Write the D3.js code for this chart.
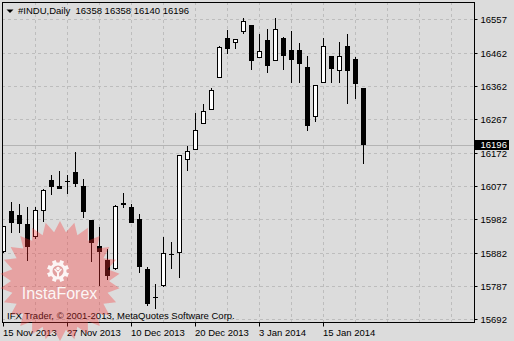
<!DOCTYPE html>
<html>
<head>
<meta charset="utf-8">
<script src="https://cdn.jsdelivr.net/npm/d3@7"></script>
<style>
    body { margin: 0; background: #dcdcdc; }
    text { font-family: "Liberation Sans", Arial, sans-serif; font-size: 9.5px; fill: #000; }
</style>
</head>
<body>
<script>
(function(){

    // chart data
    var dates = ["15 Nov 2013","18 Nov 2013","19 Nov 2013","20 Nov 2013","21 Nov 2013","22 Nov 2013",
        "25 Nov 2013","26 Nov 2013","27 Nov 2013","29 Nov 2013","2 Dec 2013","3 Dec 2013","4 Dec 2013",
        "5 Dec 2013","6 Dec 2013","9 Dec 2013","10 Dec 2013","11 Dec 2013","12 Dec 2013","13 Dec 2013",
        "16 Dec 2013","17 Dec 2013","18 Dec 2013","19 Dec 2013","20 Dec 2013","23 Dec 2013","24 Dec 2013",
        "26 Dec 2013","27 Dec 2013","30 Dec 2013","31 Dec 2013","2 Jan 2014","3 Jan 2014","6 Jan 2014",
        "7 Jan 2014","8 Jan 2014","9 Jan 2014","10 Jan 2014","13 Jan 2014","14 Jan 2014","15 Jan 2014",
        "16 Jan 2014","17 Jan 2014","21 Jan 2014","22 Jan 2014","23 Jan 2014"];
    var opens  = [15887,16004,15993,15967,15928,16003,16094,16075,16088,16116,16075,15977,15903,15863,15836,16023,
        16016,15981,15837,15752,15787,15881,15882,16150,16179,16254,16295,16387,16502,16488,16521,16541,16445,
        16497,16436,16504,16468,16468,16419,16276,16372,16451,16409,16480,16443,16358];
    var highs  = [15962,16029,16024,16016,16016,16069,16108,16120,16108,16173,16096,15979,15958,15896,16021,16055,
        16024,15995,15843,15793,15929,15914,16167,16192,16286,16313,16358,16480,16526,16499,16560,16541,16515,
        16529,16562,16507,16523,16488,16451,16367,16503,16451,16492,16515,16449,16358];
    var lows   = [15883,15940,15942,15861,15924,15973,16050,16068,16053,16073,15985,15858,15789,15805,15834,16012,
        15969,15826,15730,15721,15786,15836,15810,16120,16179,16254,16295,16387,16456,16472,16515,16411,16445,
        16403,16436,16411,16374,16374,16236,16262,16372,16372,16374,16314,16327,16140];
    var closes = [15961,15971,15967,15901,16006,16065,16074,16068,16092,16083,16002,15913,15887,15818,16019,16027,
        15971,15842,15737,15755,15882,15878,16165,16176,16237,16293,16353,16476,16472,16499,16553,16438,16465,
        16423,16528,16452,16440,16429,16250,16367,16479,16415,16450,16409,16371,16196];
    var priceLabels = ["15692","15787","15882","15982","16077","16172","16267","16362","16462","16557"];
    var dateTicks = [0, 8, 16, 24, 32, 40];
    var lastPrice = 16196;
    var header = "#INDU,Daily  16358 16358 16140 16196";

    var width = 514, height = 341;

    var svg = d3.select("body").append("svg")
        .attr("width", width)
        .attr("height", height);

    svg.append("rect")
        .attr("width", width)
        .attr("height", height)
        .attr("fill", "#dcdcdc");

    var x = d3.scaleLinear().domain([0, 59]).range([3.5, 475.5]);
    var y = d3.scaleLinear()
        .domain([+priceLabels[0], +priceLabels[priceLabels.length - 1]])
        .range([319.3, 19.3]);

    function crisp(v){ return Math.round(v) + 0.5; }

    // grid values are evenly spaced, labels are what MT4 printed
    var step = (y.domain()[1] - y.domain()[0]) / (priceLabels.length - 1);
    var gridVals = priceLabels.map(function(d, i){ return y.domain()[0] + i * step; });

    svg.append("defs").append("clipPath")
        .attr("id", "clip")
        .append("rect")
        .attr("x", 3).attr("y", 3)
        .attr("width", 471).attr("height", 319);

    var plot = svg.append("g").attr("clip-path", "url(#clip)");

    // dashed grid
    plot.selectAll(".hgrid")
        .data(gridVals)
        .enter()
        .append("line")
        .attr("x1", 2).attr("x2", 475)
        .attr("y1", function(d){ return crisp(y(d)); })
        .attr("y2", function(d){ return crisp(y(d)); })
        .attr("stroke", "#bdbdbd")
        .attr("stroke-dasharray", "3,3");

    plot.selectAll(".vgrid")
        .data(d3.range(4, 59, 4))
        .enter()
        .append("line")
        .attr("x1", function(d){ return x(d); })
        .attr("x2", function(d){ return x(d); })
        .attr("y1", 2).attr("y2", 323)
        .attr("stroke", "#bdbdbd")
        .attr("stroke-dasharray", "3,3");

    // last price line
    plot.append("line")
        .attr("x1", 2).attr("x2", 475)
        .attr("y1", crisp(y(lastPrice)))
        .attr("y2", crisp(y(lastPrice)))
        .attr("stroke", "#b4b4b4");

    // candles
    var bars = plot.selectAll(".bar")
        .data(d3.range(dates.length))
        .enter()
        .append("g")
        .attr("class", "bar");

    bars.append("line")
        .attr("x1", function(i){ return x(i); })
        .attr("x2", function(i){ return x(i); })
        .attr("y1", function(i){ return Math.round(y(highs[i])); })
        .attr("y2", function(i){ return Math.round(y(lows[i])); })
        .attr("stroke", "#000");

    function bodyTop(i){ return Math.round(y(Math.max(opens[i], closes[i]))); }
    function bodyH(i){ return Math.max(1, Math.round(y(Math.min(opens[i], closes[i]))) - bodyTop(i)); }

    bars.append("rect")
        .attr("x", function(i){ return x(i) - 2.5; })
        .attr("y", bodyTop)
        .attr("width", 5)
        .attr("height", bodyH)
        .attr("fill", "#000");

    bars.filter(function(i){ return closes[i] > opens[i] && bodyH(i) > 2; })
        .append("rect")
        .attr("x", function(i){ return x(i) - 1.5; })
        .attr("y", function(i){ return bodyTop(i) + 1; })
        .attr("width", 3)
        .attr("height", function(i){ return bodyH(i) - 2; })
        .attr("fill", "#fff");

    // time axis
    var xAxis = d3.axisBottom(x)
        .tickValues(dateTicks)
        .tickSize(4)
        .offset(0)
        .tickFormat(function(i){ return dates[i]; });

    var gx = svg.append("g")
        .attr("transform", "translate(0,322.5)")
        .call(xAxis);
    gx.select(".domain").remove();
    gx.selectAll(".tick line").attr("stroke", "#000");
    gx.selectAll(".tick text")
        .attr("text-anchor", "start")
        .attr("x", -0.5)
        .attr("y", 13)
        .attr("dy", 0)
        .attr("font-size", null)
        .attr("font-family", null);

    // price axis
    var yAxis = d3.axisRight(y)
        .tickValues(gridVals)
        .tickSize(3)
        .offset(0)
        .tickFormat(function(d, i){ return priceLabels[i]; });

    var gy = svg.append("g")
        .attr("transform", "translate(474.5,0)")
        .call(yAxis);
    gy.select(".domain").remove();
    gy.selectAll(".tick")
        .attr("transform", function(d){ return "translate(0," + crisp(y(d)) + ")"; });
    gy.selectAll(".tick line").attr("stroke", "#000");
    gy.selectAll(".tick text")
        .attr("x", 6)
        .attr("dy", "0.35em")
        .attr("font-size", null)
        .attr("font-family", null);

    // last price box
    var py = Math.round(y(lastPrice));
    svg.append("rect")
        .attr("x", 475).attr("y", py - 5)
        .attr("width", 34).attr("height", 10)
        .attr("fill", "#000");
    svg.append("text")
        .attr("x", 480.5).attr("y", py)
        .attr("dy", "0.35em")
        .style("fill", "#fff")
        .text(lastPrice);

    // frame
    svg.append("rect")
        .attr("x", 2.5).attr("y", 2.5)
        .attr("width", 472).attr("height", 320)
        .attr("fill", "none")
        .attr("stroke", "#000");

    // header
    svg.append("path")
        .attr("d", "M6.5,9.5L13.5,9.5L10,13Z")
        .attr("fill", "#000");
    svg.append("text")
        .attr("x", 18).attr("y", 14)
        .attr("xml:space", "preserve")
        .style("white-space", "pre")
        .text(header);

    svg.append("text")
        .attr("x", 7).attr("y", 319)
        .text("IFX Trader, \u00a9 2001-2013, MetaQuotes Software Corp.");

    // InstaForex watermark
    var cx = 60, cy = 281, spikes = 26;
    var starPts = d3.range(spikes * 2).map(function(k){
        var r = k % 2 ? 49 : 60,
            a = k * Math.PI / spikes - Math.PI / 2;
        return [cx + r * Math.cos(a), cy + r * Math.sin(a)];
    });
    svg.append("path")
        .attr("d", d3.line()(starPts) + "Z")
        .attr("fill", "rgb(250,50,50)")
        .attr("opacity", 0.34);

    var gear = svg.append("g")
        .attr("transform", "translate(58,271)")
        .attr("fill", "#fff")
        .attr("opacity", 0.9);
    gear.append("circle").attr("r", 8.5);
    gear.selectAll(".tooth")
        .data(d3.range(8))
        .enter()
        .append("rect")
        .attr("x", -2).attr("y", -11)
        .attr("width", 4).attr("height", 4)
        .attr("transform", function(d){ return "rotate(" + (d * 45 + 22.5) + ")"; });
    gear.append("circle").attr("r", 5.5).attr("fill", "#e2a0a0");
    gear.append("circle").attr("cy", -2.5).attr("r", 1.8);
    gear.append("path")
        .attr("d", "M-4,-1.5L-1,2L-1,7L1,7L1,2L4,-1.5L3,-2.5L0,0.5L-3,-2.5Z");

    svg.append("text")
        .attr("x", 59.5).attr("y", 299)
        .attr("text-anchor", "middle")
        .style("font-size", "16px")
        .style("fill", "#fff")
        .attr("opacity", 0.9)
        .text("InstaForex");

})();
</script>
</body>
</html>
